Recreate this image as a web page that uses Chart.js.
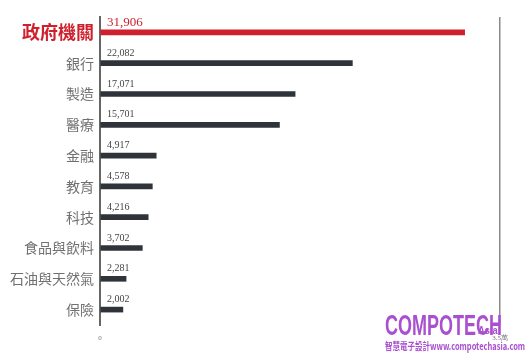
<!DOCTYPE html>
<html>
<head>
<meta charset="utf-8">
<script src="https://cdn.jsdelivr.net/npm/chart.js@4"></script>
<style>
  html, body { margin: 0; padding: 0; background: #fff; }
  #wrap { position: relative; width: 527px; height: 355px; overflow: hidden; }
  .logo { position: absolute; color: #a94fd0; white-space: nowrap; transform-origin: 0 0; }
  #big { left: 385px; top: 309px; font: bold 29px "Liberation Sans", sans-serif; transform: scaleX(0.62); }
  #asia { left: 478px; top: 324px; font: bold 11px "Liberation Sans", sans-serif; transform: scaleX(0.85); }
  #sub { left: 385px; top: 338px; font: bold 10px "Noto Sans CJK TC", sans-serif; transform: scaleX(0.75); }
</style>
</head>
<body>
<div id="wrap">
  <canvas id="chart" width="527" height="355"></canvas>
  <div class="logo" id="big">COMPOTECH</div>
  <div class="logo" id="asia">Asia</div>
  <div class="logo" id="sub">智慧電子設計www.compotechasia.com</div>
</div>
<script>
// données
var categories = ['政府機關', '銀行', '製造', '醫療', '金融', '教育', '科技', '食品與飲料', '石油與天然氣', '保險'];
var values = [31906, 22082, 17071, 15701, 4917, 4578, 4216, 3702, 2281, 2002];
var valueLabels = ['31,906', '22,082', '17,071', '15,701', '4,917', '4,578', '4,216', '3,702', '2,281', '2,002'];
var xTicks = { 0: '0', 35000: '3.5萬' };

var red = '#cf202d';
var dark = '#2f343a';

// étiquettes de valeur au-dessus des barres
var valuePlugin = {
    id: 'valueLabels',
    afterDatasetsDraw: function(chart) {
        var ctx = chart.ctx;
        var meta = chart.getDatasetMeta(0);
        ctx.save();
        ctx.textAlign = 'left';
        ctx.textBaseline = 'middle';
        meta.data.forEach(function(bar, i) {
            if (i === 0) {
                ctx.font = '13px "Liberation Serif", serif';
                ctx.fillStyle = red;
                ctx.fillText(valueLabels[i], chart.chartArea.left + 7, bar.y - 10);
            } else {
                ctx.font = '10px "Liberation Serif", serif';
                ctx.fillStyle = '#444';
                ctx.fillText(valueLabels[i], chart.chartArea.left + 7, bar.y - 10);
            }
        });
        ctx.restore();
    }
};

var ctx = document.getElementById('chart').getContext('2d');
var chart = new Chart(ctx, {
    type: 'bar',
    data: {
        labels: categories,
        datasets: [{
            data: values,
            backgroundColor: values.map(function(v, i) { return i === 0 ? red : dark; }),
            barThickness: 5
        }]
    },
    options: {
        indexAxis: 'y',
        responsive: false,
        animation: false,
        layout: { padding: { top: 17, right: 27, left: 0, bottom: 0 } },
        plugins: {
            legend: { display: false },
            tooltip: { enabled: false }
        },
        scales: {
            x: {
                min: 0,
                max: 35000,
                afterFit: function(scale) { scale.height = 30; },
                border: { display: false },
                grid: {
                    drawTicks: false,
                    color: function(c) { return c.tick && c.tick.value === 35000 ? '#8a8a8a' : 'rgba(0,0,0,0)'; },
                    lineWidth: 1.5
                },
                ticks: {
                    stepSize: 35000,
                    padding: 9,
                    color: '#777',
                    font: { size: 7, family: '"Liberation Serif", serif' },
                    callback: function(v) { return xTicks[v] !== undefined ? xTicks[v] : ''; }
                }
            },
            y: {
                afterFit: function(scale) { scale.width = 100; },
                border: { display: true, color: '#666', width: 2 },
                grid: { display: false },
                ticks: {
                    padding: -2,
                    color: function(c) { return c.index === 0 ? red : '#707070'; },
                    font: function(c) {
                        if (c.index === 0) return { size: 18, weight: 'bold', family: '"Noto Sans CJK TC", sans-serif' };
                        return { size: 14, family: '"Noto Sans CJK TC", sans-serif' };
                    }
                }
            }
        }
    },
    plugins: [valuePlugin]
});
</script>
</body>
</html>
